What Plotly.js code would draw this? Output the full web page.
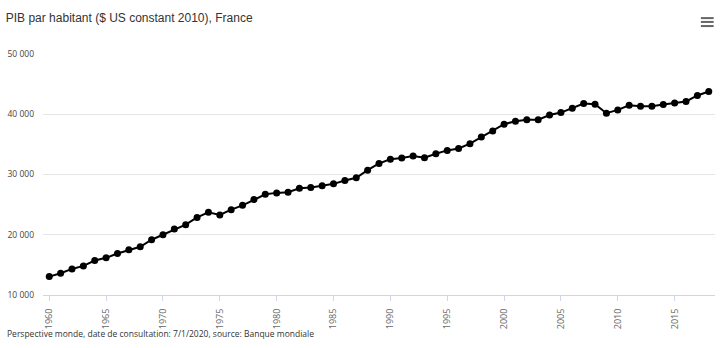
<!DOCTYPE html>
<html>
<head>
<meta charset="utf-8">
<script src="https://cdn.plot.ly/plotly-3.0.1.min.js"></script>
<style>html,body{margin:0;padding:0;background:#fff;}#chart{width:720px;height:348px;}</style>
</head>
<body>
<div id="chart"></div>
<script>
var years = [1960,1961,1962,1963,1964,1965,1966,1967,1968,1969,
             1970,1971,1972,1973,1974,1975,1976,1977,1978,1979,
             1980,1981,1982,1983,1984,1985,1986,1987,1988,1989,
             1990,1991,1992,1993,1994,1995,1996,1997,1998,1999,
             2000,2001,2002,2003,2004,2005,2006,2007,2008,2009,
             2010,2011,2012,2013,2014,2015,2016,2017,2018];
var gdpPerCapita = [13050,13620,14330,14830,15720,16170,16880,17500,18000,19170,
                    20000,20950,21670,22880,23720,23280,24170,24880,25830,26720,
                    26950,27050,27720,27830,28120,28450,29000,29450,30720,31830,
                    32550,32720,33050,32780,33450,34000,34330,35120,36220,37220,
                    38350,38850,39100,39100,39880,40280,41000,41780,41670,40170,
                    40720,41500,41330,41330,41620,41880,42120,43120,43780];
var yTicks = [10000,20000,30000,40000,50000];
var xTicks = [1960,1965,1970,1975,1980,1985,1990,1995,2000,2005,2010,2015];
var titleText = "PIB par habitant ($ US constant 2010), France";
var sourceText = "Perspective monde, date de consultation: 7/1/2020, source: Banque mondiale";

var trace = {
  x: years, y: gdpPerCapita, type: 'scatter', mode: 'lines+markers',
  line: {color: '#000000', width: 2},
  marker: {color: '#000000', size: 7},
  hoverinfo: 'x+y'
};

var layout = {
  width: 720, height: 348,
  margin: {l: 43, r: 5, t: 54, b: 53},
  paper_bgcolor: '#ffffff', plot_bgcolor: '#ffffff',
  separators: ', ',
  showlegend: false,
  title: {
    text: titleText, xref: 'container', yref: 'container',
    x: 0.008, xanchor: 'left', y: 0.948, yanchor: 'middle',
    font: {family: 'Liberation Sans, Arial, sans-serif', size: 12, color: '#333333'}
  },
  xaxis: {
    range: [1959.45, 2018.55],
    tickmode: 'array', tickvals: xTicks, ticktext: xTicks.map(String),
    tickangle: -90,
    showgrid: false, zeroline: false,
    showline: true, linecolor: '#ccd6eb', linewidth: 1,
    ticks: 'outside', ticklen: 5, tickcolor: '#ccd6eb', tickwidth: 1,
    ticklabelstandoff: 4,
    tickfont: {family: 'Open Sans, sans-serif', size: 9, color: '#666666'}
  },
  yaxis: {
    range: [10000, 50000],
    tickmode: 'array', tickvals: yTicks,
    tickformat: ',d',
    showgrid: true, gridcolor: '#e6e6e6', gridwidth: 1,
    zeroline: false, showline: false, ticks: '',
    ticklabelstandoff: 8,
    tickfont: {family: 'Open Sans, sans-serif', size: 8.5, color: '#444444'}
  },
  annotations: [{
    text: sourceText, xref: 'paper', yref: 'paper',
    x: -0.0565, xanchor: 'left', y: -0.158, yanchor: 'middle',
    showarrow: false,
    font: {family: 'Open Sans, sans-serif', size: 8.5, color: '#333333'}
  }],
  shapes: [
    {type: 'line', xref: 'paper', yref: 'paper', x0: 0.979, x1: 0.998, y0: 1.149, y1: 1.149, line: {color: '#666666', width: 2}},
    {type: 'line', xref: 'paper', yref: 'paper', x0: 0.979, x1: 0.998, y0: 1.133, y1: 1.133, line: {color: '#666666', width: 2}},
    {type: 'line', xref: 'paper', yref: 'paper', x0: 0.979, x1: 0.998, y0: 1.116, y1: 1.116, line: {color: '#666666', width: 2}}
  ]
};

Plotly.newPlot('chart', [trace], layout, {displayModeBar: false, responsive: false});
</script>
</body>
</html>
